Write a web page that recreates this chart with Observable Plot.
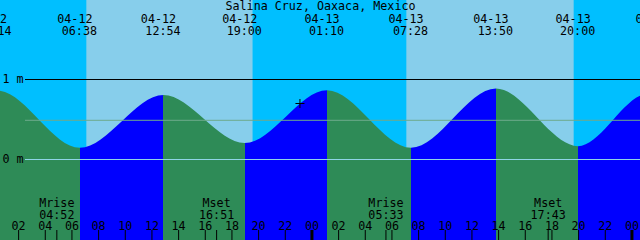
<!DOCTYPE html>
<html><head><meta charset="utf-8">
<script src="https://cdn.jsdelivr.net/npm/d3@7"></script>
<script src="https://cdn.jsdelivr.net/npm/@observablehq/plot@0.6"></script>
<style>html,body{margin:0;padding:0;background:#00BFFF;overflow:hidden}svg{display:block;overflow:hidden}</style>
</head><body><div id="chart"></div>
<script>
// ---- data ----
const title = "Salina Cruz, Oaxaca, Mexico";
// tide extremes (incl. the ones just outside the window whose labels are clipped)
const extremeTimes = ["04-12 00:14","04-12 06:38","04-12 12:54","04-12 19:00","04-13 01:10","04-13 07:28","04-13 13:50","04-13 20:00","04-14 02:00"];
const extremeHeights = [0.86, 0.14, 0.80, 0.20, 0.86, 0.14, 0.88, 0.16, 0.87];
// heights read at the left and right edges of the window
const edgeTimes = ["04-12 00:38","04-14 00:38"];
const edgeHeights = [0.854, 0.79];
// sun
const sunriseTimes = ["04-12 07:07","04-13 07:07"];
const sunsetTimes  = ["04-12 19:35","04-13 19:40"];
// moon
const moonNames = ["Mrise","Mset","Mrise","Mset"];
const moonTimes = ["04-12 04:52","04-12 16:51","04-13 05:33","04-13 17:43"];
// hour ticks (hours after 04-12 00:00)
const tickHours  = [2,4,6,8,10,12,14,16,18,20,22,24,26,28,30,32,34,36,38,40,42,44,46,48];
const tickLabels = ["02","04","06","08","10","12","14","16","18","20","22","00","02","04","06","08","10","12","14","16","18","20","22","00"];
// reference levels
const levelValues = [1, 0.49, 0];
const levelLabels = ["1 m", "", "0 m"];
// current time marker
const nowTime = "04-12 23:06";
const nowHeight = 0.70;
// window
const windowStart = "04-12 00:40";
const windowEnd   = "04-14 00:40";

// ---- styles ----
const NIGHT = "#00BFFF", DAY = "#87CEEB", RISE = "#0000FF", FALL = "#2E8B57";
const levelColors = ["#000000", "#6dab8c", "#8fd4e6"];
const FONT = "DejaVu Sans Mono";
const FS = 11.7;

function hoursOf(s) {
  const [md, hm] = s.split(" ");
  const dd = +md.split("-")[1];
  const [hh, mm] = hm.split(":").map(Number);
  return (dd - 12) * 24 + hh + mm / 60;
}

const extremes = extremeTimes.map((s, i) => ({
  t: hoursOf(s), h: extremeHeights[i], date: s.split(" ")[0], time: s.split(" ")[1]
}));
const curve = extremes.map(d => ({t: d.t, h: d.h}))
  .concat(edgeTimes.map((s, i) => ({t: hoursOf(s), h: edgeHeights[i]})))
  .sort((a, b) => a.t - b.t);
const days = sunriseTimes.map((s, i) => ({rise: hoursOf(s), set: hoursOf(sunsetTimes[i])}));
const moon = moonNames.map((n, i) => ({t: hoursOf(moonTimes[i]), name: n, time: moonTimes[i].split(" ")[1]}));
const ticks = tickHours.map((h, i) => ({t: h, label: tickLabels[i]}));
const levels = levelValues.map((v, i) => ({v, label: levelLabels[i], color: levelColors[i]}));
const yDomain = [-1.0125, 1.9875];

const plusSymbol = {
  draw(ctx, size) {
    const r = Math.sqrt(size / Math.PI);
    ctx.moveTo(-r, 0); ctx.lineTo(r, 0);
    ctx.moveTo(0, -r); ctx.lineTo(0, r);
  }
};

const txt = {fontFamily: FONT, fontSize: FS, fill: "black"};

const svg = Plot.plot({
  width: 640, height: 240,
  marginTop: 0, marginRight: 0, marginBottom: 0, marginLeft: 0,
  x: {type: "linear", domain: [hoursOf(windowStart) - 0.025, hoursOf(windowEnd) - 0.025], axis: null},
  y: {domain: yDomain, axis: null},
  style: {background: NIGHT, overflow: "hidden"},
  marks: [
    Plot.rect(days, {x1: "rise", x2: "set", fill: DAY}),
    Plot.areaY(curve, {x: "t", y1: yDomain[0], y2: "h", curve: "monotone-x", fill: "url(#riseFall)"}),
    Plot.ruleY(levels, {y: "v", stroke: "color", insetLeft: 25}),
    Plot.text(levels, {y: "v", text: "label", frameAnchor: "left", textAnchor: "start", lineAnchor: "middle", dx: 2, ...txt}),
    Plot.dot([{t: hoursOf(nowTime), h: nowHeight}], {x: "t", y: "h", symbol: plusSymbol, r: 4.5, stroke: "black", fill: "none", strokeWidth: 1}),
    Plot.text([title], {text: d => d, frameAnchor: "top", lineAnchor: "top", dy: 1, ...txt}),
    Plot.text(extremes, {x: "t", text: "date", frameAnchor: "top", lineAnchor: "top", dy: 14.4, dx: -5.5, ...txt}),
    Plot.text(extremes, {x: "t", text: "time", frameAnchor: "top", lineAnchor: "top", dy: 26, dx: -1, ...txt}),
    Plot.text(moon, {x: "t", text: "name", frameAnchor: "bottom", lineAnchor: "top", dy: -42.3, ...txt}),
    Plot.text(moon, {x: "t", text: "time", frameAnchor: "bottom", lineAnchor: "top", dy: -30.3, ...txt}),
    Plot.text(ticks, {x: "t", text: "label", frameAnchor: "bottom", lineAnchor: "top", dy: -19, ...txt}),
    Plot.ruleX(ticks, {x: "t", insetTop: 230, stroke: "black", strokeWidth: d => d.t % 24 === 0 ? 3 : 1}),
    Plot.ruleX(moon, {x: "t", insetTop: 230, stroke: "black", strokeWidth: 1})
  ]
});

// rising / falling fill as a hard-stop gradient positioned with the x scale
const xs = svg.scale("x");
const px = extremes.map(d => xs.apply(d.t));
const x0 = px[0], x1 = px[px.length - 1];
const defs = d3.select(svg).insert("defs", ":first-child");
const grad = defs.append("linearGradient").attr("id", "riseFall")
  .attr("gradientUnits", "userSpaceOnUse")
  .attr("x1", x0).attr("x2", x1).attr("y1", 0).attr("y2", 0);
for (let i = 0; i < extremes.length - 1; i++) {
  const c = extremes[i + 1].h > extremes[i].h ? RISE : FALL;
  grad.append("stop").attr("offset", (px[i] - x0) / (x1 - x0)).attr("stop-color", c);
  grad.append("stop").attr("offset", (px[i + 1] - x0) / (x1 - x0)).attr("stop-color", c);
}
document.getElementById("chart").appendChild(svg);
</script>
</body></html>
